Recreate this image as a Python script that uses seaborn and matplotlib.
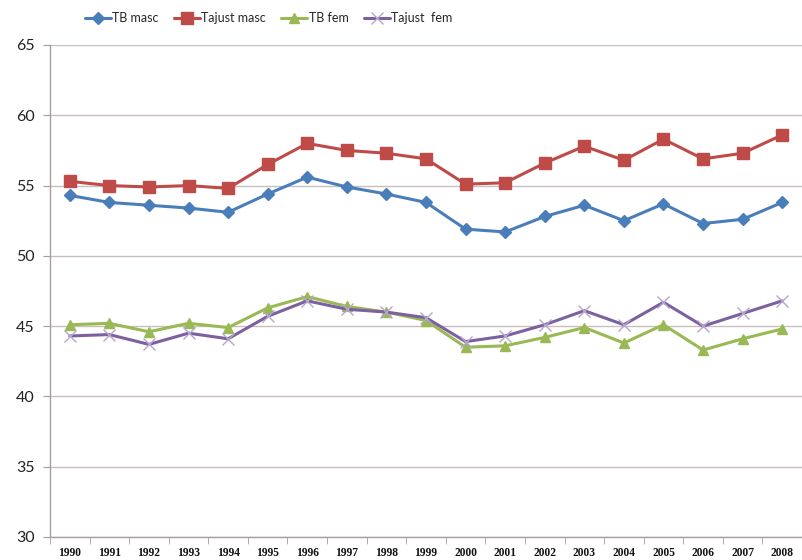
import pandas as pd
import matplotlib
matplotlib.use("Agg")
import matplotlib.pyplot as plt
import seaborn as sns

years = list(range(1990, 2009))

tb_masc = [54.3, 53.8, 53.6, 53.4, 53.1, 54.4, 55.6, 54.9, 54.4, 53.8,
           51.9, 51.7, 52.8, 53.6, 52.5, 53.7, 52.3, 52.6, 53.8]
tajust_masc = [55.3, 55.0, 54.9, 55.0, 54.8, 56.5, 58.0, 57.5, 57.3, 56.9,
               55.1, 55.2, 56.6, 57.8, 56.8, 58.3, 56.9, 57.3, 58.6]
tb_fem = [45.1, 45.2, 44.6, 45.2, 44.9, 46.3, 47.1, 46.4, 46.0, 45.4,
          43.5, 43.6, 44.2, 44.9, 43.8, 45.1, 43.3, 44.1, 44.8]
tajust_fem = [44.3, 44.4, 43.7, 44.5, 44.1, 45.7, 46.8, 46.2, 46.0, 45.6,
              43.9, 44.3, 45.1, 46.1, 45.1, 46.7, 45.0, 45.9, 46.8]

series = {
    "TB masc": tb_masc,
    "Tajust masc": tajust_masc,
    "TB fem": tb_fem,
    "Tajust  fem": tajust_fem,
}

# style per series: colour, marker, marker size, marker edge colour
styles = {
    "TB masc": ("#4A7EBB", "D", 6, "#4A7EBB"),
    "Tajust masc": ("#BE4B48", "s", 8.5, "#BE4B48"),
    "TB fem": ("#98B954", "^", 7.5, "#98B954"),
    "Tajust  fem": ("#7D60A0", "x", 8, "#B6A6CC"),
}

sns.set_style("white")
plt.rcParams['font.family'] = ['Lato', 'DejaVu Sans']

fig = plt.figure(figsize=(8.02, 5.60), dpi=100)
ax = fig.add_axes([50 / 802, 23 / 560, 752 / 802, 492 / 560])

for name, values in series.items():
    color, marker, ms, mec = styles[name]
    df = pd.DataFrame({"year": years, "value": values})
    sns.lineplot(data=df, x="year", y="value", ax=ax, color=color, lw=2.2,
                 marker=marker, markersize=ms, markeredgecolor=mec,
                 markerfacecolor=color, markeredgewidth=1.0,
                 label=name, legend=False)

ax.set_xlim(1989.5, 2008.42)
ax.set_ylim(30, 65)
ax.set_yticks(range(30, 66, 5))
ax.set_xticks(years)
ax.set_xticks([y - 0.5 for y in years] + [2008.5], minor=True)
ax.set_xlabel("")
ax.set_ylabel("")

ax.yaxis.grid(True, color="#C8BEBE", lw=1.0)
ax.xaxis.grid(False)
for side in ["top", "right"]:
    ax.spines[side].set_visible(False)
for side in ["left", "bottom"]:
    ax.spines[side].set_color("#A89E9E")
    ax.spines[side].set_linewidth(1.0)

ax.tick_params(axis="y", which="major", left=True, length=5, color="#A89E9E",
               labelsize=11.5, labelcolor="#222222", pad=6)
ax.tick_params(axis="x", which="major", bottom=False, labelsize=8.3, pad=4)
ax.tick_params(axis="x", which="minor", bottom=True, length=5, color="#A89E9E")
for lbl in ax.get_xticklabels():
    lbl.set_fontfamily("Liberation Serif")
    lbl.set_fontweight("bold")
    lbl.set_color("#111111")

handles, labels = ax.get_legend_handles_labels()
fig.legend(handles, labels, loc="upper center", bbox_to_anchor=(0.335, 0.998),
           ncol=4, frameon=False, fontsize=9, handlelength=2.1,
           columnspacing=1.2, handletextpad=0.1)

plt.savefig("out.png", dpi=100)
plt.close()
